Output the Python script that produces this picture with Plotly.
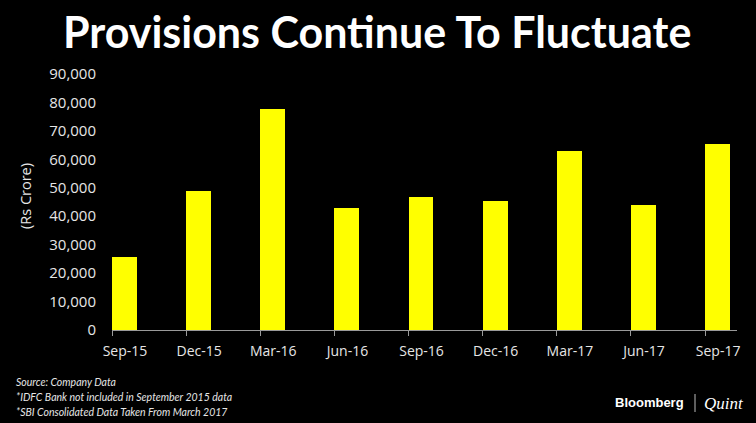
import plotly.graph_objects as go

quarters = ["Sep-15", "Dec-15", "Mar-16", "Jun-16", "Sep-16", "Dec-16", "Mar-17", "Jun-17", "Sep-17"]
provisions = [25800, 49000, 77600, 42800, 46900, 45200, 63000, 43900, 65300]
y_ticks = [0, 10000, 20000, 30000, 40000, 50000, 60000, 70000, 80000, 90000]
y_tick_labels = ["0", "10,000", "20,000", "30,000", "40,000", "50,000", "60,000", "70,000", "80,000", "90,000"]

W, H = 756, 423
L, R, T, B = 112, 19, 74, 93
PW, PH = W - L - R, H - T - B

def px(x):
    return (x - L) / PW

def py(y):
    return (H - B - y) / PH

fig = go.Figure()
fig.add_trace(go.Bar(
    x=quarters, y=provisions,
    marker=dict(color="#FFFF00", line=dict(width=0)),
    offset=0, width=0.335,
    hoverinfo="skip",
))

tick_font = dict(family="Open Sans, sans-serif", size=14, color="#e6e6e6")

fig.update_layout(
    width=W, height=H,
    margin=dict(l=L, r=R, t=T, b=B, pad=0),
    paper_bgcolor="black", plot_bgcolor="black",
    showlegend=False,
    bargap=0,
    xaxis=dict(
        type="category", range=[0, 8.43],
        showgrid=False, zeroline=False,
        showline=True, linecolor="#9a9a9a", linewidth=1,
        ticks="outside", ticklen=5, tickcolor="#9a9a9a", tickwidth=1,
        tickfont=tick_font, ticklabelshift=13, ticklabelstandoff=3,
    ),
    yaxis=dict(
        range=[0, 90000], tickvals=y_ticks, ticktext=y_tick_labels,
        showgrid=False, zeroline=False, showline=False,
        ticks="", tickfont=dict(family="Open Sans, sans-serif", size=15, color="#e6e6e6"),
        ticklabelstandoff=15,
    ),
    annotations=[
        dict(text="<b>Provisions Continue To Fluctuate</b>", x=px(377), y=py(31),
             xref="paper", yref="paper", xanchor="center", yanchor="middle",
             showarrow=False, font=dict(family="Lato, sans-serif", size=43, color="white")),
        dict(text="(Rs Crore)", x=px(25), y=py(196), textangle=-90,
             xref="paper", yref="paper", xanchor="center", yanchor="middle",
             showarrow=False, font=dict(family="Open Sans, sans-serif", size=14.5, color="#e6e6e6")),
        dict(text="<i>Source: Company Data</i>", x=px(14), y=py(382),
             xref="paper", yref="paper", xanchor="left", yanchor="middle",
             showarrow=False, font=dict(family="Lato, sans-serif", size=10.5, color="#e6e6e6")),
        dict(text="<i>*IDFC Bank not included in September 2015 data</i>", x=px(14), y=py(397),
             xref="paper", yref="paper", xanchor="left", yanchor="middle",
             showarrow=False, font=dict(family="Lato, sans-serif", size=10.5, color="#e6e6e6")),
        dict(text="<i>*SBI Consolidated Data Taken From March 2017</i>", x=px(14), y=py(412),
             xref="paper", yref="paper", xanchor="left", yanchor="middle",
             showarrow=False, font=dict(family="Lato, sans-serif", size=10.5, color="#e6e6e6")),
        dict(text="<b>Bloomberg</b>", x=px(686), y=py(402),
             xref="paper", yref="paper", xanchor="right", yanchor="middle",
             showarrow=False, font=dict(family="Liberation Sans, Arial, sans-serif", size=13, color="white")),
        dict(text="<i>Quint</i>", x=px(702), y=py(403),
             xref="paper", yref="paper", xanchor="left", yanchor="middle",
             showarrow=False, font=dict(family="Liberation Serif, serif", size=17, color="white")),
    ],
    shapes=[
        dict(type="line", xref="paper", yref="paper", x0=px(695), x1=px(695), y0=py(394), y1=py(412),
             line=dict(color="#bbbbbb", width=1)),
    ],
)

fig.write_html(
    "out.html",
    config={"displayModeBar": False, "staticPlot": True},
    post_script="document.body.style.margin='0';document.body.style.background='black';",
)
